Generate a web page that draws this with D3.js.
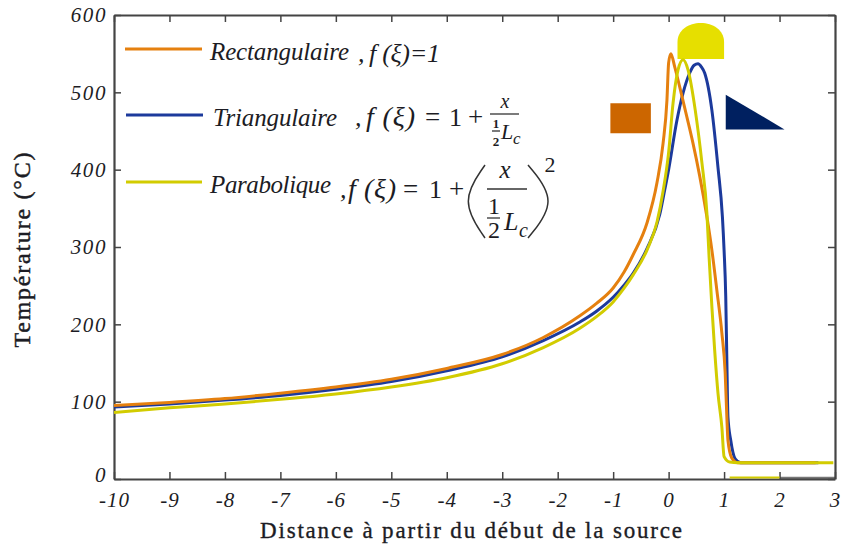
<!DOCTYPE html>
<html><head><meta charset="utf-8">
<script src="https://cdnjs.cloudflare.com/ajax/libs/d3/7.8.5/d3.min.js"></script>
<style>html,body{margin:0;padding:0;background:#fff}svg{display:block}
text{font-family:"Liberation Serif",serif;fill:#1c1c24}</style></head><body><svg id="c" width="843" height="546"></svg>
<script>
const xTicks=[-10,-9,-8,-7,-6,-5,-4,-3,-2,-1,0,1,2,3];
const yTicks=[0,100,200,300,400,500,600];
const xLabel="Distance à partir du début de la source";
const yLabel="Température (°C)";
const rectangulaire=[[-10,95],[-9,99],[-8,104],[-7,111],[-6,119],[-5,129],[-4,143],[-3,161],[-2.26,183],[-1.6,211],[-1.3,227],[-1,247],[-0.8,268],[-0.64,290],[-0.39,331],[-0.21,383],[-0.1,434],[-0.03,490],[0,538],[0.04,550],[0.11,533],[0.2,507],[0.33,468],[0.44,434],[0.56,392],[0.69,339],[0.78,296],[0.87,244],[0.96,189],[1.02,137],[1.05,80],[1.07,50],[1.14,27],[1.25,21],[2.65,21]];
const triangulaire=[[-10,93],[-9,97],[-8,102],[-7,108],[-6,116],[-5,126],[-4,140],[-3,158],[-2.26,179],[-1.6,203],[-1.3,217],[-1,235],[-0.8,251],[-0.64,266],[-0.39,298],[-0.16,342],[-0.07,374],[-0.01,396],[0.15,464],[0.26,499],[0.38,525],[0.46,535],[0.53,537],[0.59,533],[0.65,525],[0.78,477],[0.89,403],[0.97,339],[1,296],[1.03,236],[1.05,154],[1.07,80],[1.12,50],[1.2,26],[1.3,21],[2.7,21]];
const parabolique=[[-10,86],[-9,92],[-8,97],[-7,103],[-6,110],[-5,119],[-4,131],[-3,149],[-2.26,170],[-1.6,195],[-1.3,210],[-1,229],[-0.8,247],[-0.64,264],[-0.39,296],[-0.21,332],[-0.1,372],[0,422],[0.08,486],[0.17,529],[0.26,542],[0.35,529],[0.48,477],[0.6,409],[0.69,344],[0.73,287],[0.78,223],[0.83,167],[0.89,111],[0.96,67],[1,29],[1.1,22],[1.25,21],[2.97,21]];
const bottomYellow=[[1.1,2],[2,2]];
const bottomGray=[[2,1],[3,1]];
const shapeRect=[[-1.05,486],[-0.32,486],[-0.32,447],[-1.05,447]];
const shapeTri=[[1.03,497],[1.03,452],[2.09,452]];
const shapeDomeBase=[0.16,1.0,543];
const seriesColors={r:"#E5800F",t:"#1C3A9C",p:"#D2CC00"};

const svg=d3.select("#c");
const L=114,R=835,T=15,B=479;
const x=d3.scaleLinear().domain([-10,3]).range([L,R]);
const y=d3.scaleLinear().domain([0,600]).range([B,T]);
const line=d3.line().x(d=>x(d[0])).y(d=>y(d[1])).curve(d3.curveMonotoneX);
const poly=d3.line().x(d=>x(d[0])).y(d=>y(d[1]));

// shapes
svg.append("path").attr("d",poly(shapeRect)+"Z").attr("fill","#CC6600");
svg.append("path").attr("d",poly(shapeTri)+"Z").attr("fill","#002060");
const [d0,d1,dv]=shapeDomeBase;
const dx0=x(d0),dx1=x(d1),dy=y(dv),mx=(dx0+dx1)/2;
svg.append("path").attr("d",`M${dx0},${dy}L${dx0},${dy-17}C${dx0},${dy-29} ${mx-12},${dy-36} ${mx},${dy-36}C${mx+12},${dy-36} ${dx1},${dy-29} ${dx1},${dy-17}L${dx1},${dy}Z`).attr("fill","#E6DF00");

svg.append("path").attr("d",poly(bottomGray)).attr("stroke","#777").attr("stroke-width",3).attr("fill","none");

// axes
function style(g){g.selectAll("path.domain").attr("stroke","#444").attr("stroke-width",2.2);g.selectAll(".tick line").attr("stroke","#444").attr("stroke-width",1.5);}
const gb=svg.append("g").attr("transform",`translate(0,${B})`).call(d3.axisBottom(x).tickValues(xTicks).tickSize(-7).tickPadding(13).tickSizeOuter(0).tickFormat(d3.format("d"))).call(style);
gb.selectAll("text").attr("font-size",21).attr("font-style","italic").attr("letter-spacing",1).style("font-family",'"Liberation Serif"').attr("fill","#1c1c24").attr("dy","0.71em").text(d=>d<0?"-"+Math.abs(d):d);
svg.append("g").attr("transform",`translate(0,${T})`).call(d3.axisTop(x).tickValues(xTicks).tickSize(-7).tickSizeOuter(0).tickFormat("")).call(style);
const gl=svg.append("g").attr("transform",`translate(${L},0)`).call(d3.axisLeft(y).tickValues(yTicks).tickSize(-7).tickPadding(7).tickSizeOuter(0)).call(style);
gl.selectAll("text").attr("font-size",21).attr("font-style","italic").attr("letter-spacing",1.6).style("font-family",'"Liberation Serif"').attr("fill","#1c1c24").attr("dy",d=>d===0?"0.1em":"0.32em");
svg.append("g").attr("transform",`translate(${R},0)`).call(d3.axisRight(y).tickValues(yTicks).tickSize(-7).tickSizeOuter(0).tickFormat("")).call(style);

// series
[[triangulaire,seriesColors.t],[rectangulaire,seriesColors.r],[parabolique,seriesColors.p]].forEach(([d,c])=>{
  svg.append("path").attr("d",line(d)).attr("fill","none").attr("stroke",c).attr("stroke-width",3);
});
svg.append("path").attr("d",poly(bottomYellow)).attr("stroke",seriesColors.p).attr("stroke-width",2).attr("fill","none");

// axis titles
svg.append("text").attr("x",471).attr("y",538).attr("text-anchor","middle").attr("font-size",23).attr("stroke","#1c1c24").attr("stroke-width",0.35).attr("textLength",422).text(xLabel);
svg.append("text").attr("transform","translate(30,250) rotate(-90)").attr("text-anchor","middle").attr("font-size",24).attr("stroke","#1c1c24").attr("stroke-width",0.45).attr("textLength",195).text(yLabel);

// legend
function t(xp,yp,s,o={}){const e=svg.append("text").attr("x",xp).attr("y",yp).attr("font-size",o.size||25).text(s);
 if(o.italic!==false)e.attr("font-style","italic"); if(o.anchor)e.attr("text-anchor",o.anchor); if(o.len)e.attr("textLength",o.len); return e;}
function keyLine(x0,x1,yp,c){svg.append("line").attr("x1",x0).attr("x2",x1).attr("y1",yp).attr("y2",yp).attr("stroke",c).attr("stroke-width",3);}
function bar(x0,x1,yp){svg.append("line").attr("x1",x0).attr("x2",x1).attr("y1",yp).attr("y2",yp).attr("stroke","#333").attr("stroke-width",1.3);}
function eqn(xe,x1,xp,yp){t(xe,yp,"=",{italic:false,size:27});t(x1,yp,"1",{italic:false,size:26});t(xp,yp,"+",{italic:false,size:27});}

keyLine(125,202,49,seriesColors.r);
t(210,60,"Rectangulaire",{len:139});
t(358,62,",",{size:26});
t(369,62,"f (ξ)=1",{size:26,len:71});

keyLine(126,203,115,seriesColors.t);
t(213,126,"Triangulaire",{len:124});
t(355,126,",",{size:26});
t(366,126,"f (ξ)",{size:28,len:49});
eqn(425,449,468,126);
t(505,108,"x",{size:20,anchor:"middle"});
bar(490,519,114);
t(496,128,"1",{size:13,italic:false,anchor:"middle"}).attr("font-weight",700);
bar(492,500,131);
t(496,146,"2",{size:13,italic:false,anchor:"middle"}).attr("font-weight",700);
t(501,139,"L",{size:22});
t(513,144,"c",{size:17});

keyLine(126,202,182,seriesColors.p);
t(210,193,"Parabolique",{len:121});
t(340,198,",",{size:26});
t(348,198,"f (ξ)",{size:28,len:48});
eqn(403,429,449,198);
t(505,178,"x",{size:25,anchor:"middle"});
bar(487,527,189);
t(494,214,"1",{size:24,italic:false,anchor:"middle"});
bar(487,500,218);
t(494,238,"2",{size:24,italic:false,anchor:"middle"});
t(504,230,"L",{size:26});
t(519,237,"c",{size:20});
svg.append("path").attr("d",d3.line().curve(d3.curveBasis)([[485,165],[460,201],[485,238]])).attr("fill","none").attr("stroke","#333").attr("stroke-width",1.5);
svg.append("path").attr("d",d3.line().curve(d3.curveBasis)([[528,165],[558,201],[528,238]])).attr("fill","none").attr("stroke","#333").attr("stroke-width",1.5);
t(550,172,"2",{size:22,italic:false,anchor:"middle"});
</script></body></html>
